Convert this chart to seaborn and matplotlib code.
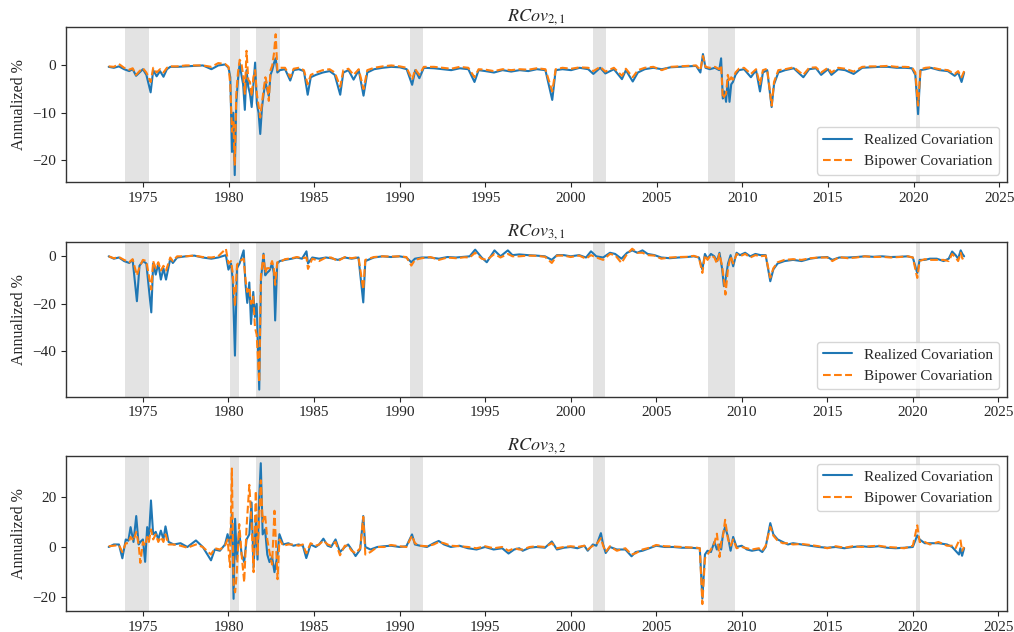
import matplotlib
matplotlib.use("Agg")
import matplotlib.pyplot as plt
from matplotlib.ticker import MultipleLocator
import seaborn as sns
import numpy as np

# ---------------- data (decimal years, annualized %) ----------------
t21 = [1973.0, 1973.3, 1973.6, 1973.9, 1974.2, 1974.4, 1974.6, 1974.8, 1975.0, 1975.2,
       1975.45, 1975.6, 1975.8, 1976.0, 1976.2, 1976.4, 1976.6, 1977.0, 1977.5, 1978.0,
       1978.5, 1979.0, 1979.4, 1979.8, 1980.0, 1980.1, 1980.2, 1980.28, 1980.36, 1980.45,
       1980.55, 1980.65, 1980.75, 1980.85, 1980.95, 1981.05, 1981.15, 1981.25, 1981.35, 1981.45,
       1981.55, 1981.65, 1981.75, 1981.85, 1981.95, 1982.05, 1982.15, 1982.25, 1982.35, 1982.45,
       1982.55, 1982.65, 1982.75, 1982.85, 1983.0, 1983.3, 1983.6, 1983.8, 1984.1, 1984.4,
       1984.62, 1984.8, 1985.1, 1985.5, 1985.9, 1986.2, 1986.52, 1986.7, 1987.0, 1987.3,
       1987.6, 1987.88, 1988.1, 1988.5, 1989.0, 1989.5, 1990.0, 1990.4, 1990.72, 1990.9,
       1991.14, 1991.4, 1992.0, 1992.5, 1993.0, 1993.5, 1994.0, 1994.36, 1994.6, 1995.0,
       1995.5, 1996.0, 1996.5, 1997.0, 1997.5, 1998.0, 1998.5, 1998.9, 1999.1, 1999.5,
       2000.0, 2000.5, 2001.0, 2001.3, 2001.7, 2002.0, 2002.5, 2002.97, 2003.2, 2003.6,
       2003.9, 2004.3, 2004.8, 2005.3, 2005.8, 2006.3, 2006.8, 2007.3, 2007.55, 2007.7,
       2007.85, 2008.1, 2008.4, 2008.65, 2008.76, 2008.86, 2008.95, 2009.05, 2009.15, 2009.25,
       2009.35, 2009.45, 2009.6, 2009.8, 2010.1, 2010.5, 2010.8, 2011.03, 2011.2, 2011.45,
       2011.71, 2011.85, 2012.1, 2012.5, 2013.0, 2013.56, 2013.9, 2014.3, 2014.6, 2015.0,
       2015.2, 2015.6, 2016.0, 2016.5, 2017.0, 2017.5, 2018.0, 2018.5, 2019.0, 2019.5,
       2019.9, 2020.1, 2020.26, 2020.4, 2020.7, 2021.0, 2021.5, 2022.0, 2022.4, 2022.6,
       2022.8, 2022.95]
rc21 = [-0.3, -0.5, -0.2, -0.8, -1.2, -0.8, -2.2, -1.5, -0.8, -2.0,
        -5.7, -1.0, -2.3, -1.2, -2.4, -0.8, -0.3, -0.3, -0.2, -0.1,
        0.0, -0.8, 0.0, 0.2, -0.5, -2.5, -18.3, -10.0, -23.2, -8.0,
        -3.0, 0.5, -2.0, -4.0, -9.4, -1.0, -4.5, -6.0, -8.8, -4.0,
        0.6, -8.0, -10.0, -14.5, -9.0, -6.0, -3.5, -5.0, -6.5, -2.0,
        -1.0, 0.5, 1.5, -1.5, -1.0, -0.8, -3.2, -1.0, -0.8, -1.2,
        -6.2, -2.5, -2.0, -1.5, -1.2, -2.0, -6.2, -1.5, -1.0, -3.0,
        -1.0, -6.4, -1.5, -0.8, -0.5, -0.3, -0.4, -0.8, -4.1, -1.0,
        -2.7, -0.5, -0.6, -0.8, -1.0, -0.6, -0.8, -3.5, -1.0, -1.2,
        -1.5, -1.0, -1.3, -1.0, -1.2, -0.8, -1.0, -7.3, -1.0, -0.8,
        -1.0, -0.5, -0.8, -1.8, -0.5, -1.7, -0.8, -2.9, -1.0, -3.4,
        -1.5, -0.8, -0.5, -0.8, -0.4, -0.3, -0.2, -0.1, -1.5, 2.4,
        -0.5, -0.8, -0.5, -1.0, 1.5, -7.0, -5.5, -7.7, -3.0, -7.7,
        -4.0, -3.5, -2.0, -1.0, -0.8, -2.5, -1.0, -5.5, -1.5, -1.0,
        -8.8, -4.0, -1.5, -1.0, -0.6, -2.5, -0.8, -0.6, -2.0, -0.8,
        -2.0, -0.8, -1.0, -1.8, -0.5, -0.4, -0.3, -0.3, -0.5, -0.5,
        -0.6, -2.0, -10.3, -1.0, -0.8, -0.5, -1.0, -1.2, -2.2, -1.5,
        -3.5, -1.5]
bc21 = [-0.2, -0.3, 0.3, -0.5, -0.9, -0.6, -2.0, -1.2, -0.6, -1.5,
        -3.5, -0.5, -1.5, -0.8, -1.5, -0.5, -0.2, -0.2, 0.0, 0.0,
        0.0, -0.3, 0.5, 0.3, -0.3, -4.0, -14.0, -12.0, -21.0, -6.0,
        -1.5, 1.2, 0.5, -2.0, -6.0, 3.1, -3.0, -3.5, -6.5, -2.5,
        -1.0, -6.0, -8.5, -11.0, -8.0, -5.0, -2.5, -4.0, -7.5, -1.0,
        0.0, 2.5, 6.6, -1.0, -0.5, -0.5, -2.5, -0.7, -0.5, -1.0,
        -4.0, -2.0, -1.5, -1.0, -0.8, -1.5, -4.5, -1.0, -0.7, -2.0,
        -0.8, -5.0, -1.0, -0.5, -0.2, 0.0, -0.2, -0.5, -3.0, -0.8,
        -2.0, -0.3, -0.3, -0.5, -0.7, -0.3, -0.5, -2.5, -0.8, -0.9,
        -1.2, -0.8, -1.0, -0.8, -0.9, -0.6, -0.8, -5.5, -0.8, -0.5,
        -0.7, -0.4, -0.5, -1.2, -0.3, -1.3, -0.5, -2.2, -0.7, -2.5,
        -1.0, -0.5, -0.3, -1.0, -0.3, -0.2, -0.1, 0.0, -1.0, 2.0,
        -0.3, -0.5, -0.3, -0.8, 0.0, -7.0, -6.5, -6.0, -2.0, -3.5,
        -2.5, -3.0, -1.5, -0.7, -0.5, -1.8, -0.8, -4.0, -1.0, -0.7,
        -8.5, -3.5, -1.0, -0.8, -0.4, -2.0, -0.5, -0.4, -1.5, -0.5,
        -1.5, -0.5, -0.7, -1.3, -0.3, -0.2, -0.2, -0.1, -0.3, -0.3,
        -0.4, -1.5, -8.5, -0.8, -0.5, -0.4, -0.8, -1.0, -1.8, -1.2,
        -2.5, -1.2]

t31 = [1973.0, 1973.3, 1973.6, 1973.9, 1974.2, 1974.4, 1974.65, 1974.8, 1975.0, 1975.2,
       1975.49, 1975.6, 1975.75, 1975.9, 1976.05, 1976.2, 1976.35, 1976.6, 1976.75, 1977.0,
       1977.5, 1978.0, 1978.5, 1979.0, 1979.4, 1979.85, 1980.0, 1980.15, 1980.25, 1980.38,
       1980.5, 1980.65, 1980.89, 1981.0, 1981.1, 1981.22, 1981.32, 1981.45, 1981.55, 1981.65,
       1981.8, 1981.9, 1982.05, 1982.15, 1982.25, 1982.4, 1982.55, 1982.65, 1982.73, 1982.85,
       1983.0, 1983.3, 1983.7, 1984.0, 1984.3, 1984.56, 1984.65, 1984.9, 1985.3, 1985.7,
       1986.0, 1986.4, 1986.8, 1987.2, 1987.6, 1987.88, 1988.0, 1988.5, 1989.0, 1989.5,
       1990.0, 1990.4, 1990.69, 1990.9, 1991.3, 1991.8, 1992.3, 1992.8, 1993.3, 1993.8,
       1994.1, 1994.42, 1994.8, 1995.1, 1995.55, 1995.9, 1996.33, 1996.6, 1997.0, 1997.5,
       1998.0, 1998.5, 1998.9, 1999.2, 1999.6, 2000.0, 2000.5, 2000.9, 2001.19, 2001.5,
       2001.9, 2002.3, 2002.6, 2002.97, 2003.3, 2003.6, 2003.9, 2004.2, 2004.5, 2004.9,
       2005.3, 2005.8, 2006.3, 2006.8, 2007.2, 2007.5, 2007.7, 2007.85, 2008.0, 2008.2,
       2008.4, 2008.55, 2008.7, 2008.85, 2008.96, 2009.05, 2009.2, 2009.35, 2009.5, 2009.7,
       2009.9, 2010.2, 2010.5, 2010.8, 2011.1, 2011.4, 2011.67, 2011.85, 2012.1, 2012.5,
       2013.0, 2013.5, 2014.0, 2014.5, 2015.0, 2015.3, 2015.7, 2016.2, 2016.7, 2017.2,
       2017.7, 2018.2, 2018.7, 2019.2, 2019.7, 2020.0, 2020.26, 2020.4, 2020.7, 2021.0,
       2021.4, 2021.8, 2022.1, 2022.3, 2022.5, 2022.65, 2022.8, 2022.9, 2023.0]
rc31 = [0.0, -1.0, -0.5, -2.0, -2.8, -1.5, -18.9, -4.0, -2.0, -3.0,
        -23.6, -3.0, -7.7, -3.0, -9.8, -5.0, -9.8, -1.0, -2.8, -0.5,
        0.0, 0.3, -0.5, -1.0, -0.5, 0.5, -5.6, -3.0, -10.0, -41.8,
        -5.0, -3.0, 2.5, -12.0, -19.6, -11.0, -28.5, -15.0, -25.5, -20.0,
        -56.1, -10.0, 1.1, -8.0, -7.0, -6.0, -3.0, -7.0, -27.0, -3.0,
        -2.0, -1.5, -1.0, -0.5, -1.0, 2.1, -3.0, -0.5, -1.0, -0.5,
        -0.8, -1.5, -0.5, -1.0, -0.5, -19.4, -2.0, -0.5, 0.0, -0.3,
        0.0, -0.5, -2.5, -1.0, -0.5, -0.5, -1.0, -0.3, -0.5, -0.2,
        0.0, 2.8, -0.5, -2.5, 2.5, 0.0, 2.5, 0.5, 0.8, 0.5,
        0.3, 0.0, -1.5, 0.5, 0.5, 0.0, 0.5, -0.5, 2.1, 0.0,
        -0.5, 1.5, 1.0, -1.0, 1.5, 2.5, 1.5, 2.5, 1.0, 0.5,
        -0.5, -0.8, -0.5, -0.3, 0.0, -0.5, -5.5, 1.0, -1.0, 1.0,
        0.0, -2.0, 1.5, -5.0, -12.6, -10.0, -3.0, 0.5, -4.2, 1.5,
        0.5, 1.5, 0.0, 1.0, 0.5, 0.5, -10.5, -5.5, -3.0, -2.0,
        -1.5, -2.0, -1.0, -0.5, -0.3, -1.5, -0.5, -0.5, -0.3, 0.0,
        -0.2, 0.0, -0.3, -0.2, 0.0, -0.5, -7.0, -1.5, -1.5, -1.0,
        -1.0, -2.0, -1.0, 2.0, 0.5, -1.0, 2.5, 1.0, 0.0]
bc31 = [0.0, -0.8, -0.3, -1.5, -2.5, -1.2, -8.0, -4.5, -1.5, -2.0,
        -14.0, -2.0, -5.0, -2.5, -6.0, -4.0, -6.0, -0.5, -2.0, 0.0,
        0.0, 0.3, -0.3, -0.5, 0.0, 3.2, -3.0, -2.0, -7.0, -21.0,
        -3.5, -2.0, -1.0, -10.0, -15.0, -13.0, -20.0, -17.0, -30.0, -33.0,
        -53.0, -8.0, 0.5, -7.0, -5.0, -5.0, -2.0, -5.0, -12.0, -2.5,
        -2.5, -1.2, -0.8, -0.3, -0.8, -0.5, -5.3, -1.0, -2.0, -0.5,
        -0.5, -2.0, -0.3, -0.8, -0.3, -14.0, -1.5, -0.3, 0.0, -0.1,
        0.0, -0.3, -3.9, -1.5, -0.8, -0.3, -1.5, -0.5, -0.8, -0.4,
        -0.5, 1.5, -1.0, -1.5, 1.0, -0.5, 1.0, 0.0, 0.0, 0.3,
        0.2, -0.2, -2.8, 0.3, 0.3, -0.3, 0.3, -1.0, 0.5, -0.5,
        -1.5, 1.0, 0.5, -2.8, 1.0, 3.2, 1.5, 1.5, 0.5, 0.3,
        -1.0, -0.5, -0.3, -0.2, 0.2, -0.5, -7.0, 0.5, -1.5, 0.5,
        -0.5, -3.0, 1.0, -4.0, -10.0, -16.1, -5.0, 0.0, -3.0, 1.0,
        0.0, 1.0, -0.5, 0.5, 0.0, 0.3, -9.0, -5.0, -2.5, -1.5,
        -1.2, -1.5, -0.8, -0.5, -0.5, -2.0, -0.3, -0.8, -0.5, 0.0,
        -0.3, -0.2, -0.5, -0.3, 0.0, -0.5, -9.1, -2.0, -1.2, -1.5,
        -1.5, -1.5, -2.0, 1.0, -0.5, -2.0, 1.5, -1.0, -0.5]

t32 = [1973.0, 1973.3, 1973.6, 1973.8, 1974.0, 1974.15, 1974.28, 1974.45, 1974.61, 1974.75,
       1974.85, 1975.0, 1975.13, 1975.25, 1975.35, 1975.47, 1975.6, 1975.75, 1975.9, 1976.05,
       1976.2, 1976.32, 1976.5, 1976.8, 1977.2, 1977.6, 1978.1, 1978.5, 1978.98, 1979.2,
       1979.5, 1979.8, 1979.95, 1980.09, 1980.2, 1980.3, 1980.39, 1980.49, 1980.63, 1980.77,
       1980.92, 1981.06, 1981.22, 1981.35, 1981.47, 1981.6, 1981.7, 1981.8, 1981.89, 1982.0,
       1982.14, 1982.27, 1982.4, 1982.55, 1982.69, 1982.87, 1982.98, 1983.2, 1983.5, 1983.8,
       1984.1, 1984.35, 1984.55, 1984.8, 1985.1, 1985.3, 1985.55, 1985.8, 1986.0, 1986.26,
       1986.52, 1986.8, 1987.0, 1987.2, 1987.43, 1987.7, 1987.88, 1988.0, 1988.3, 1988.7,
       1989.1, 1989.5, 1990.0, 1990.4, 1990.73, 1990.9, 1991.2, 1991.6, 1992.0, 1992.29,
       1992.6, 1993.0, 1993.5, 1994.0, 1994.5, 1995.0, 1995.5, 1996.0, 1996.37, 1996.7,
       1997.0, 1997.2, 1997.6, 1998.0, 1998.5, 1998.9, 1999.2, 1999.6, 2000.0, 2000.4,
       2000.8, 2001.0, 2001.3, 2001.5, 2001.77, 2001.9, 2002.05, 2002.3, 2002.7, 2003.2,
       2003.56, 2003.8, 2004.2, 2004.6, 2005.0, 2005.5, 2006.0, 2006.5, 2007.0, 2007.4,
       2007.55, 2007.7, 2007.85, 2008.0, 2008.2, 2008.4, 2008.55, 2008.7, 2008.8, 2008.9,
       2009.03, 2009.2, 2009.35, 2009.5, 2009.7, 2010.0, 2010.3, 2010.6, 2011.0, 2011.2,
       2011.4, 2011.67, 2011.85, 2012.1, 2012.4, 2012.7, 2013.0, 2013.5, 2014.0, 2014.5,
       2015.0, 2015.5, 2016.0, 2016.5, 2017.0, 2017.5, 2018.0, 2018.5, 2019.0, 2019.5,
       2020.0, 2020.26, 2020.4, 2020.7, 2021.0, 2021.5, 2022.0, 2022.3, 2022.5, 2022.7,
       2022.78, 2022.88, 2023.0]
rc32 = [0.0, 1.0, 1.0, -4.5, 3.0, 2.5, 7.9, 2.0, 12.3, 1.0,
        2.0, 3.0, -5.9, 7.9, 3.0, 18.5, 5.0, 6.0, 3.0, 6.5,
        3.0, 8.2, 2.0, 1.0, 1.5, 0.0, 2.6, 0.0, -5.3, -1.0,
        -1.5, 1.0, 5.1, 1.0, 13.0, -20.6, 11.2, -5.0, 6.0, -3.0,
        -6.0, 3.0, 5.0, 17.7, -8.0, 10.0, -5.0, 20.0, 33.3, 5.0,
        7.0, -3.0, -6.0, -4.0, -10.0, -3.0, 5.1, 1.0, 1.5, 0.5,
        1.0, 0.5, -4.4, 1.0, 0.0, 1.0, 3.3, 0.5, 0.0, 3.0,
        -2.0, 0.0, 1.0, -1.0, -3.6, -1.0, 12.3, 0.0, -1.0, 0.0,
        0.3, 0.5, 0.0, 0.3, 5.0, 1.0, 0.5, 0.0, 1.5, 2.4,
        1.0, 0.0, 0.5, -0.5, -1.0, 0.0, -1.0, -0.5, -2.6, -1.0,
        -0.5, -1.5, -0.3, 0.0, -0.3, 2.2, -1.0, -0.3, 0.0, -0.5,
        0.5, -1.5, 1.0, 0.5, 5.5, 1.0, -2.4, 0.0, -1.0, -1.0,
        -3.7, -2.0, -1.5, -0.5, 0.5, 0.0, 0.0, -0.3, -0.3, -0.5,
        -0.5, -20.5, -3.0, -1.5, -2.0, 2.0, -1.0, 1.0, -1.0, 5.0,
        8.0, 4.0, -1.5, 4.0, 0.0, 0.5, -1.0, -1.5, -1.0, -2.0,
        0.0, 9.5, 5.0, 3.0, 2.0, 1.0, 1.5, 1.0, 0.5, 0.0,
        -0.3, 0.0, -0.5, 0.0, 0.3, 0.0, 0.3, -0.3, -0.5, -0.3,
        0.0, 4.6, 3.0, 1.5, 1.5, 1.5, 1.0, 0.0, -1.5, -3.0,
        -0.5, -3.5, -0.5]
bc32 = [0.3, 0.5, 0.8, -2.0, 1.5, 1.5, 4.0, 2.5, 6.0, 1.0,
        -6.3, 2.0, 0.5, 4.0, 2.0, 7.0, 3.0, 5.0, 2.0, 4.0,
        2.0, 5.0, 1.0, 1.0, 0.5, -0.3, 1.0, 0.0, -3.0, -0.5,
        -1.0, 0.5, 3.0, -8.0, 31.2, -15.0, -18.0, -10.0, 9.1, -3.0,
        -14.0, 8.0, 24.7, 10.0, -10.0, 22.3, -3.0, 12.0, 26.5, 10.0,
        13.0, 3.0, -2.0, -7.0, 14.4, -12.8, 3.0, 0.5, 1.0, 1.0,
        0.5, 1.0, -2.5, 1.5, 0.5, 1.0, 2.5, 1.0, 0.5, 2.0,
        -3.3, 0.5, 0.5, -1.5, -2.5, -0.5, 12.0, -3.0, -2.0, 0.0,
        0.0, 0.8, 0.3, 0.0, 4.5, 1.5, 0.5, 0.3, 1.0, 2.0,
        1.5, 0.5, 0.3, 0.0, -0.5, 0.3, -0.5, 0.0, -1.5, -0.5,
        -1.0, -1.0, 0.0, 0.3, 0.0, 1.5, -0.5, 0.0, 0.3, 0.0,
        0.5, -1.0, 0.5, 1.0, 3.5, 0.5, -2.0, 0.3, -1.5, -0.5,
        -3.0, -2.5, -1.0, -0.3, 0.8, 0.3, 0.2, 0.0, -0.2, -0.3,
        -0.5, -22.7, -4.5, -3.0, -1.0, 1.5, 5.3, -4.0, 2.0, 4.0,
        10.8, 3.0, 0.5, 3.0, -0.5, 0.0, -0.5, -1.0, -0.5, -1.5,
        0.5, 8.0, 4.5, 2.5, 1.5, 1.5, 1.0, 1.2, 0.8, 0.3,
        -0.5, 0.3, -0.3, 0.3, 0.0, 0.3, 0.5, 0.0, -0.2, -0.5,
        0.5, 8.6, 2.0, 2.0, 1.0, 2.0, 0.5, 0.5, -0.5, 2.5,
        3.0, -1.5, 0.0]

rec_start = [1973.95, 1980.08, 1981.62, 1990.62, 2001.28, 2008.02, 2020.16]
rec_end = [1975.35, 1980.64, 1983.02, 1991.36, 2002.02, 2009.60, 2020.40]

panels = [
    (r"$RCov_{2,1}$", t21, rc21, bc21, "lower right", 10),
    (r"$RCov_{3,1}$", t31, rc31, bc31, "lower right", 20),
    (r"$RCov_{3,2}$", t32, rc32, bc32, "upper right", 20),
]

# ---------------- style ----------------
sns.set_style("ticks")
plt.rcParams["font.family"] = ["Liberation Serif", "DejaVu Serif"]
plt.rcParams["mathtext.fontset"] = "stix"
plt.rcParams["axes.edgecolor"] = "#333333"

fig, axes = plt.subplots(3, 1, figsize=(10.14, 6.32), dpi=100)
fig.subplots_adjust(left=0.065, right=0.993, top=0.957, bottom=0.033, hspace=0.384)

for ax, (title, t, rc, bc, loc, step) in zip(axes, panels):
    for s, e in zip(rec_start, rec_end):
        ax.axvspan(s, e, color="#e3e3e3", lw=0, zorder=0)
    sns.lineplot(x=t, y=rc, ax=ax, color="#1f77b4", lw=1.5,
                 label="Realized Covariation", zorder=2)
    sns.lineplot(x=t, y=bc, ax=ax, color="#ff7f0e", lw=1.5, linestyle="--",
                 label="Bipower Covariation", zorder=3)
    ax.set_title(title, fontsize=13, pad=4)
    ax.set_ylabel("Annualized %", fontsize=11.5)
    ax.set_xlabel("")
    ax.xaxis.set_major_locator(MultipleLocator(5))
    ax.yaxis.set_major_locator(MultipleLocator(step))
    ax.tick_params(labelsize=11)
    for sp in ax.spines.values():
        sp.set_visible(True)
        sp.set_linewidth(1.0)
    ax.legend(loc=loc, fontsize=11, frameon=True, handlelength=1.9)

fig.savefig("out.png", dpi=100)
